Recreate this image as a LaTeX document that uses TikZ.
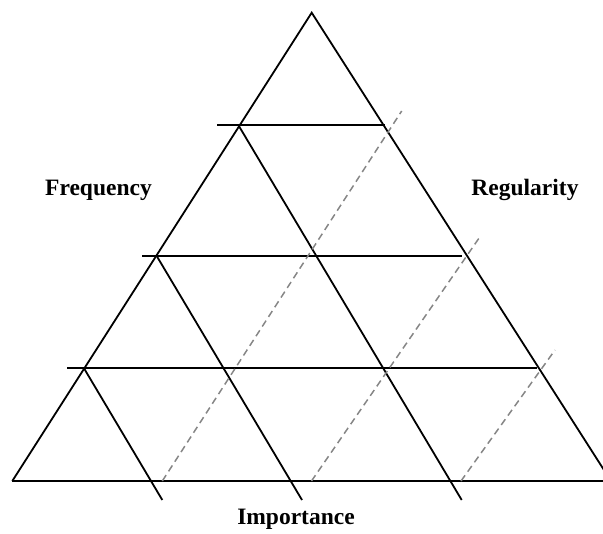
\documentclass[tikz,border=0pt]{standalone}
\usepackage{fontspec}
\setmainfont{Liberation Serif}
\begin{document}
\begin{tikzpicture}[x=1pt,y=-1pt,
  solidline/.style={line width=1.8pt,black},
  dashline/.style={line width=1.5pt,gray!95,dash pattern=on 7pt off 4.5pt},
  lbl/.style={font=\fontsize{23.5}{26}\selectfont\bfseries}]
\useasboundingbox (0,0) rectangle (603,534);
\clip (0,0) rectangle (603,534);
% triangle
\coordinate (apex) at (311.7,12.7);
\coordinate (bl) at (12.3,481);
\coordinate (br) at (611,481);
\coordinate (be) at (604,481);
\draw[solidline] (bl) -- (apex) -- (br);
% horizontal lines
\coordinate (h1a) at (217.3,125); \coordinate (h1b) at (385,125);
\coordinate (h2a) at (142.3,256); \coordinate (h2b) at (461.7,256);
\coordinate (h3a) at (67.3,368.3); \coordinate (h3b) at (536.7,368.3);
\draw[solidline] (h1a) -- (h1b);
\draw[solidline] (h2a) -- (h2b);
\draw[solidline] (h3a) -- (h3b);
\draw[solidline] (bl) -- (be);
% descending lines
\coordinate (a1) at (238.3,125); \coordinate (a2) at (461.7,500);
\coordinate (b1) at (156.7,256); \coordinate (b2) at (302,500);
\coordinate (c1) at (84,368.3); \coordinate (c2) at (162.3,500);
\draw[solidline] (a1) -- (a2);
\draw[solidline] (b1) -- (b2);
\draw[solidline] (c1) -- (c2);
% dashed lines
\coordinate (d1a) at (162.3,481); \coordinate (d1b) at (401.7,111);
\coordinate (d2a) at (311.5,481); \coordinate (d2b) at (480,236.7);
\coordinate (d3a) at (461,481); \coordinate (d3b) at (555,350);
\draw[dashline] (d1a) -- (d1b);
\draw[dashline] (d2a) -- (d2b);
\draw[dashline] (d3a) -- (d3b);
% labels
\node[lbl] (freq) at (98.5,190) {Frequency};
\node[lbl] (reg) at (525,190) {Regularity};
\node[lbl] (imp) at (296,519) {Importance};
\end{tikzpicture}
\end{document}
